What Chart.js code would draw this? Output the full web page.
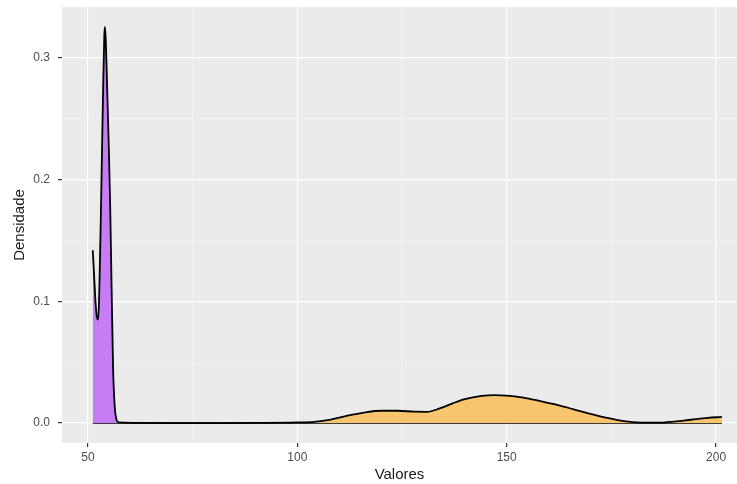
<!DOCTYPE html>
<html>
<head>
<meta charset="utf-8">
<script src="https://cdn.jsdelivr.net/npm/chart.js@4.4.1/dist/chart.umd.min.js"></script>
<style>
html,body{margin:0;padding:0;background:#fff;}
#wrap{width:737px;height:484px;position:relative;}
</style>
</head>
<body>
<div id="wrap"><canvas id="c" width="737" height="484"></canvas></div>
<script>
// Group 1 (purple) density
const purpleX = [51.15, 51.5, 51.85, 52.2, 52.45, 52.75, 53.05, 53.35, 53.65, 53.9, 54.05, 54.25, 54.6, 54.95, 55.3, 55.65, 56.0, 56.4, 56.8, 57.2];
const purpleY = [0.142, 0.119, 0.097, 0.086, 0.085, 0.115, 0.165, 0.222, 0.280, 0.318, 0.3255, 0.315, 0.274, 0.230, 0.180, 0.110, 0.045, 0.013, 0.003, 0.0005];
// Group 2 (orange) density
const orangeX = [57.2, 62, 70, 80, 90, 100, 104, 108, 112, 116, 120, 124, 128, 131, 134, 137, 140, 144, 147, 150, 154, 158, 162, 166, 170, 174, 178, 182, 186, 190, 194, 198, 201.4];
const orangeY = [0.0005, 0.0001, 0.0, 0.0, 0.0001, 0.0005, 0.0010, 0.0028, 0.0060, 0.0086, 0.0101, 0.0101, 0.0093, 0.0092, 0.0120, 0.0160, 0.0196, 0.0223, 0.0230, 0.0226, 0.0208, 0.0180, 0.0150, 0.0113, 0.0076, 0.0042, 0.0016, 0.0004, 0.0003, 0.0012, 0.0027, 0.0042, 0.0050];
// Axis ticks
const xTicks = [50, 75, 100, 125, 150, 175, 200];
const xMajor = [50, 100, 150, 200];
const yTicks = [0, 0.05, 0.1, 0.15, 0.2, 0.25, 0.3];
const yMajor = [0, 0.1, 0.2, 0.3];
const xTitle = 'Valores';
const yTitle = 'Densidade';

const toPts = (xs, ys) => xs.map((x, i) => ({x: x, y: ys[i]}));
const baseline = [{x: purpleX[0], y: 0}, {x: orangeX[orangeX.length - 1], y: 0}];

const isMajorX = v => xMajor.some(m => Math.abs(m - v) < 1e-9);
const isMajorY = v => yMajor.some(m => Math.abs(m - v) < 1e-9);

const panelBg = {
  id: 'panelBg',
  beforeDraw(chart) {
    const {ctx, chartArea: a} = chart;
    ctx.save();
    ctx.fillStyle = '#EBEBEB';
    ctx.fillRect(a.left, a.top, a.right - a.left, a.bottom - a.top);
    ctx.restore();
  }
};

const tickFont = {family: '"Liberation Sans", Arial, sans-serif', size: 12};
const titleFont = {family: '"Liberation Sans", Arial, sans-serif', size: 15};

new Chart(document.getElementById('c'), {
  type: 'line',
  data: {
    datasets: [
      {
        data: toPts(purpleX, purpleY),
        backgroundColor: '#C77CF5',
        borderColor: '#000000',
        borderWidth: 1.8,
        fill: 'origin',
        pointRadius: 0,
        cubicInterpolationMode: 'monotone'
      },
      {
        data: toPts(orangeX, orangeY),
        backgroundColor: '#F6C56E',
        borderColor: '#000000',
        borderWidth: 1.8,
        fill: 'origin',
        pointRadius: 0,
        cubicInterpolationMode: 'monotone'
      },
      {
        data: baseline,
        borderColor: '#000000',
        borderWidth: 1.4,
        fill: false,
        pointRadius: 0
      }
    ]
  },
  options: {
    responsive: false,
    animation: false,
    devicePixelRatio: 1,
    layout: {padding: {top: 7, right: 0, left: 0, bottom: 0}},
    plugins: {legend: {display: false}, tooltip: {enabled: false}},
    scales: {
      x: {
        type: 'linear',
        min: 43.8,
        max: 205.0,
        afterBuildTicks: axis => { axis.ticks = xTicks.map(v => ({value: v})); },
        afterFit: s => { s.height = 41; s.paddingLeft = 0; s.paddingRight = 0; },
        border: {display: false},
        grid: {
          color: c => (c.tick && isMajorX(c.tick.value)) ? '#FFFFFF' : 'rgba(255,255,255,0.6)',
          lineWidth: c => (c.tick && isMajorX(c.tick.value)) ? 1.2 : 0.6,
          tickColor: c => (c.tick && isMajorX(c.tick.value)) ? '#333333' : 'rgba(0,0,0,0)',
          tickLength: 4,
          drawTicks: true
        },
        ticks: {
          autoSkip: false,
          maxRotation: 0,
          padding: 3,
          color: '#4D4D4D',
          font: tickFont,
          callback: v => isMajorX(v) ? String(v) : ''
        },
        title: {display: true, text: xTitle, color: '#1A1A1A', font: titleFont, padding: {top: 0, bottom: 0}}
      },
      y: {
        type: 'linear',
        min: -0.0164,
        max: 0.3418,
        afterBuildTicks: axis => { axis.ticks = yTicks.map(v => ({value: v})); },
        afterFit: s => { s.width = 62; s.paddingTop = 0; s.paddingBottom = 0; },
        border: {display: false},
        grid: {
          color: c => (c.tick && isMajorY(c.tick.value)) ? '#FFFFFF' : 'rgba(255,255,255,0.6)',
          lineWidth: c => (c.tick && isMajorY(c.tick.value)) ? 1.2 : 0.6,
          tickColor: c => (c.tick && isMajorY(c.tick.value)) ? '#333333' : 'rgba(0,0,0,0)',
          tickLength: 4,
          drawTicks: true
        },
        ticks: {
          autoSkip: false,
          padding: 8,
          color: '#4D4D4D',
          font: tickFont,
          callback: v => isMajorY(v) ? v.toFixed(1) : ''
        },
        title: {display: true, text: yTitle, color: '#1A1A1A', font: titleFont, padding: {top: 11, bottom: 0}}
      }
    }
  },
  plugins: [panelBg]
});
</script>
</body>
</html>
